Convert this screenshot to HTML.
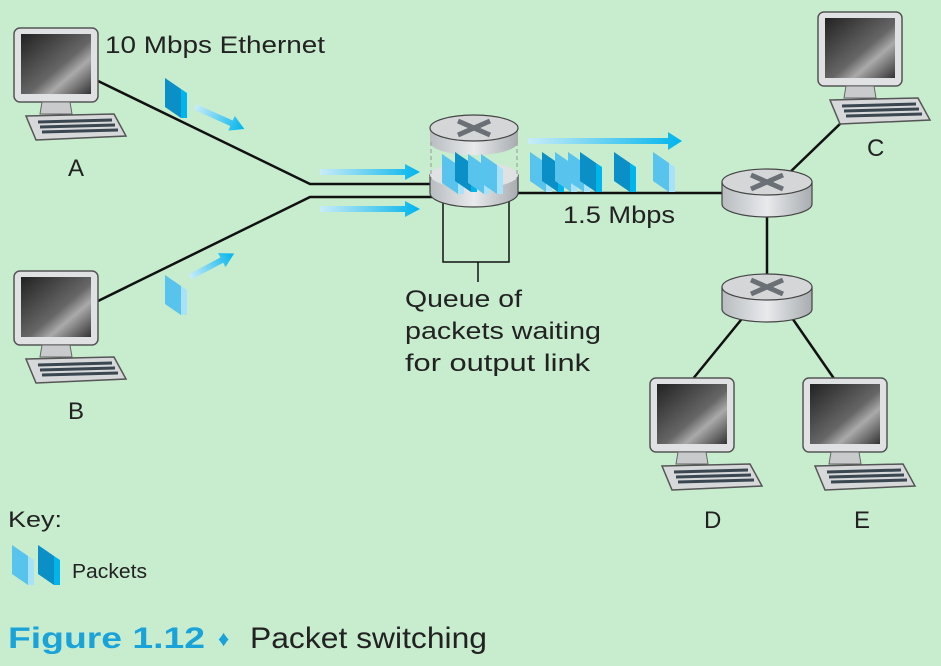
<!DOCTYPE html>
<html><head><meta charset="utf-8"><style>
html,body{margin:0;padding:0;background:#c7ecce;}
svg{display:block;font-family:"Liberation Sans","DejaVu Sans",sans-serif;}
</style></head><body>
<svg width="941" height="666" viewBox="0 0 941 666">
<defs>
<linearGradient id="scr" x1="0" y1="0" x2="1" y2="1"><stop offset="0" stop-color="#222"/><stop offset="0.55" stop-color="#666"/><stop offset="0.7" stop-color="#aaa"/><stop offset="1" stop-color="#333"/></linearGradient>
<linearGradient id="ar" x1="0" y1="0" x2="1" y2="0"><stop offset="0" stop-color="#c8ecf8"/><stop offset="1" stop-color="#00b4ec"/></linearGradient>
<linearGradient id="cyl" x1="0" y1="0" x2="1" y2="0"><stop offset="0" stop-color="#b8bcc0"/><stop offset="0.5" stop-color="#e8eaec"/><stop offset="1" stop-color="#a8acb0"/></linearGradient>
<g id="pc">
<rect x="0" y="0" width="84" height="74" rx="6" fill="#dfe1e3" stroke="#555" stroke-width="1.5"/>
<rect x="7" y="6" width="70" height="60" fill="url(#scr)"/>
<path d="M28 74 L56 74 L58 86 L26 86 Z" fill="#c8cacc" stroke="#666"/>
<path d="M12 88 L100 86 L112 108 L22 112 Z" fill="#d6d8da" stroke="#555" stroke-width="1.5"/>
<path d="M24 94 L98 92 M26 99 L101 97 M28 104 L104 102" stroke="#3a4650" stroke-width="3"/>
</g>
<g id="rt">
<path d="M-45 0 L-45 22 A45 13 0 0 0 45 22 L45 0 Z" fill="url(#cyl)" stroke="#444" stroke-width="1.2"/>
<ellipse cx="0" cy="0" rx="45" ry="13" fill="#d4d6d8" stroke="#444" stroke-width="1.2"/>
<path d="M-16 -7 L16 7 M16 -7 L-16 7" stroke="#6a7075" stroke-width="5"/>
</g>
<g id="pk"><polygon points="0,0 16,11 16,40 0,29" fill="#58c3ec"/><polygon points="16,11 22,15 22,40 16,40" fill="#a8e2f8"/></g>
<g id="pk2"><polygon points="0,0 16,11 16,40 0,29" fill="#0a8fc6"/><polygon points="16,11 22,15 22,40 16,40" fill="#00b4ec"/></g>
</defs>

<g stroke="#111" stroke-width="2.5" fill="none">
<path d="M96 80 L310 184 L432 184"/>
<path d="M96 302 L310 197 L432 197"/>
<path d="M518 193 L722 193"/>
<path d="M767 205 L767 285"/>
<path d="M785 177 L842 122"/>
<path d="M745 315 L692 380"/>
<path d="M790 315 L835 380"/>
</g>
<g stroke="#111" stroke-width="1.5" fill="none"><path d="M443 190 L443 262 L509 262 L509 190 M478 262 L478 282"/></g>

<use href="#pc" x="14" y="28"/>
<use href="#pc" x="14" y="271"/>
<use href="#pc" x="818" y="12"/>
<use href="#pc" x="650" y="378"/>
<use href="#pc" x="803" y="378"/>

<use href="#rt" x="767" y="182"/>
<use href="#rt" x="767" y="287"/>
<path d="M430 175 L430 193 A44 14 0 0 0 518 193 L518 175 Z" fill="url(#cyl)" stroke="#444" stroke-width="1.2"/>
<ellipse cx="474" cy="175" rx="44" ry="13" fill="#dfe1e3"/>
<path d="M430 128 L430 142 A44 13 0 0 0 518 142 L518 128 Z" fill="url(#cyl)"/>
<ellipse cx="474" cy="128" rx="44" ry="13" fill="#d4d6d8" stroke="#444" stroke-width="1.2"/>
<path d="M458 121 L490 135 M490 121 L458 135" stroke="#6a7075" stroke-width="5"/>
<path d="M431 142 L431 180 M517 142 L517 180" stroke="#999" stroke-dasharray="4,3"/>
<use href="#pk" x="442" y="154"/>
<use href="#pk2" x="455" y="152"/>
<use href="#pk" x="468" y="154"/>
<use href="#pk" x="481" y="154"/>
<use href="#pk" x="530" y="152"/>
<use href="#pk2" x="542" y="152"/>
<use href="#pk" x="555" y="152"/>
<use href="#pk" x="568" y="152"/>
<use href="#pk2" x="580" y="152"/>
<use href="#pk2" x="614" y="152"/>
<use href="#pk" x="653" y="152"/>
<use href="#pk2" x="165" y="78"/>
<use href="#pk" x="165" y="275"/>
<use href="#pk" x="12" y="545"/>
<use href="#pk2" x="38" y="545"/>

<path d="M320 169 L405 169 L405 164 L420 172 L405 180 L405 175 L320 175 Z" fill="url(#ar)"/>
<path d="M320 206 L405 206 L405 201 L420 209 L405 217 L405 212 L320 212 Z" fill="url(#ar)"/>
<path d="M528 138 L668 138 L668 132 L682 141 L668 150 L668 144 L528 144 Z" fill="url(#ar)"/>
<g transform="translate(195,107) rotate(24)"><path d="M0 -3 L40 -3 L40 -8 L54 0 L40 8 L40 3 L0 3 Z" fill="url(#ar)"/></g>
<g transform="translate(190,277) rotate(-28)"><path d="M0 -3 L36 -3 L36 -8 L50 0 L36 8 L36 3 L0 3 Z" fill="url(#ar)"/></g>

<g fill="#222" font-size="24">
<text x="105" y="53" textLength="220" lengthAdjust="spacingAndGlyphs">10 Mbps Ethernet</text>
<text x="563" y="223" textLength="112" lengthAdjust="spacingAndGlyphs">1.5 Mbps</text>
<text x="405" y="307" textLength="117" lengthAdjust="spacingAndGlyphs">Queue of</text>
<text x="405" y="339" textLength="196" lengthAdjust="spacingAndGlyphs">packets waiting</text>
<text x="405" y="371" textLength="185" lengthAdjust="spacingAndGlyphs">for output link</text>
<text x="68" y="176">A</text>
<text x="68" y="419">B</text>
<text x="867" y="156">C</text>
<text x="704" y="528">D</text>
<text x="854" y="528">E</text>
<text x="8" y="527" font-size="22" textLength="54" lengthAdjust="spacingAndGlyphs">Key:</text>
<text x="72" y="578" font-size="20" textLength="75" lengthAdjust="spacingAndGlyphs">Packets</text>
<text x="8" y="648" font-size="30" fill="#1aa3d9" font-weight="bold" textLength="197" lengthAdjust="spacingAndGlyphs">Figure 1.12</text>
<text x="218" y="646" font-size="22" fill="#1aa3d9">♦</text>
<text x="250" y="648" font-size="30" textLength="237" lengthAdjust="spacingAndGlyphs">Packet switching</text>
</g>
</svg>
</body></html>
